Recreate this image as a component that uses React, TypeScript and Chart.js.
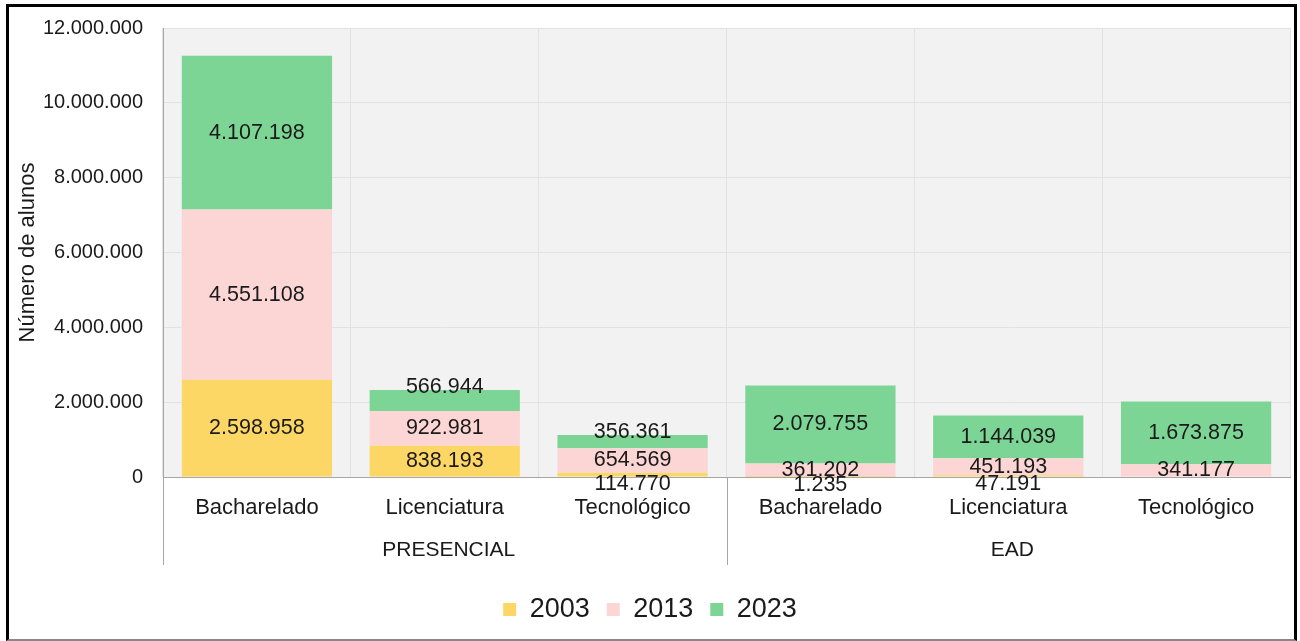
import React, { useEffect, useRef } from 'react';
import { Chart, registerables } from 'chart.js';

Chart.register(...registerables);

const categories = ['Bacharelado', 'Licenciatura', 'Tecnológico', 'Bacharelado', 'Licenciatura', 'Tecnológico'];
const groups = ['PRESENCIAL', 'EAD'];
const groupSizes = [3, 3];
const seriesNames = ['2003', '2013', '2023'];
const values2003: (number | null)[] = [2598958, 838193, 114770, 1235, 47191, null];
const values2013: (number | null)[] = [4551108, 922981, 654569, 361202, 451193, 341177];
const values2023: (number | null)[] = [4107198, 566944, 356361, 2079755, 1144039, 1673875];
const seriesColors = ['#FDD766', '#FBD6D4', '#7DD595'];
const yAxisTitle = 'Número de alunos';

const FONT = "'Liberation Sans', Arial, Helvetica, sans-serif";
const TEXT = '#1a1a1a';

const fmt = (v: number) => String(Math.round(v)).replace(/\B(?=(\d{3})+(?!\d))/g, '.');

export default function App() {
  const ref = useRef<HTMLCanvasElement>(null);

  useEffect(() => {
    if (!ref.current) return;

    const bgPlugin = {
      id: 'plotBg',
      beforeDraw(chart: any) {
        const { ctx, chartArea: a } = chart;
        ctx.save();
        ctx.fillStyle = '#f2f2f2';
        ctx.fillRect(a.left, a.top, a.right - a.left, a.bottom - a.top);
        ctx.restore();
      },
    };

    const labelPlugin = {
      id: 'stackLabels',
      afterDatasetsDraw(chart: any) {
        const ctx = chart.ctx;
        ctx.save();
        ctx.font = `21.5px ${FONT}`;
        ctx.fillStyle = TEXT;
        ctx.textAlign = 'center';
        ctx.textBaseline = 'middle';
        const n = chart.data.labels.length;
        const dsCount = chart.data.datasets.length;
        for (let i = 0; i < n; i++) {
          let lastIdx = -1;
          for (let d = 0; d < dsCount; d++) {
            const v = chart.data.datasets[d].data[i];
            if (v != null && v > 0) lastIdx = d;
          }
          for (let d = 0; d < dsCount; d++) {
            const v = chart.data.datasets[d].data[i];
            if (v == null || v <= 0) continue;
            const el: any = chart.getDatasetMeta(d).data[i];
            const top = Math.min(el.y, el.base);
            const bottom = Math.max(el.y, el.base);
            const h = bottom - top;
            let y = (top + bottom) / 2;
            if (d === lastIdx && d > 0 && h < 24) y = top - 3;
            else if (d === 0 && h < 12) y = bottom + 8;
            ctx.fillText(fmt(v), el.x, y);
          }
        }
        ctx.restore();
      },
    };

    const groupPlugin = {
      id: 'groupAxis',
      afterDraw(chart: any) {
        const { ctx, chartArea } = chart;
        const x = chart.scales.x;
        const half = (x.getPixelForValue(1) - x.getPixelForValue(0)) / 2;
        ctx.save();
        ctx.strokeStyle = '#a6a6a6';
        ctx.lineWidth = 1;
        ctx.font = `21px ${FONT}`;
        ctx.fillStyle = TEXT;
        ctx.textAlign = 'center';
        ctx.textBaseline = 'middle';
        let idx = 0;
        groups.forEach((g, gi) => {
          const first = idx;
          const last = idx + groupSizes[gi] - 1;
          const left = Math.round(x.getPixelForValue(first) - half) + 0.5;
          ctx.beginPath();
          ctx.moveTo(left, chartArea.bottom);
          ctx.lineTo(left, chartArea.bottom + 88);
          ctx.stroke();
          const cx = (x.getPixelForValue(first) + x.getPixelForValue(last)) / 2 + 4;
          ctx.fillText(g, cx, chartArea.bottom + 73);
          idx += groupSizes[gi];
        });
        ctx.restore();
      },
    };

    const chart = new Chart(ref.current, {
      type: 'bar',
      data: {
        labels: categories,
        datasets: [values2003, values2013, values2023].map((vals, i) => ({
          label: seriesNames[i],
          data: vals,
          backgroundColor: seriesColors[i],
          borderWidth: 0,
          categoryPercentage: 1,
          barPercentage: 0.8,
        })),
      },
      options: {
        responsive: false,
        animation: false,
        layout: { padding: { left: 10, right: 10, top: 28, bottom: 8 } },
        plugins: {
          tooltip: { enabled: false },
          legend: {
            position: 'bottom',
            labels: {
              boxWidth: 13,
              boxHeight: 13,
              padding: 17,
              color: TEXT,
              font: { family: FONT, size: 27 },
            },
          },
        },
        scales: {
          x: {
            stacked: true,
            grid: { color: '#e2e2e2', drawTicks: false, offset: true },
            border: { color: '#a6a6a6' },
            ticks: { color: TEXT, font: { family: FONT, size: 22 }, padding: 18, maxRotation: 0, autoSkip: false },
            afterFit(scale: any) {
              scale.height = 102;
            },
          },
          y: {
            stacked: true,
            min: 0,
            max: 12000000,
            grid: { color: '#e2e2e2', drawTicks: false },
            border: { color: '#a6a6a6' },
            ticks: {
              stepSize: 2000000,
              color: TEXT,
              font: { family: FONT, size: 20 },
              padding: 20,
              callback: (v: any) => fmt(Number(v)),
            },
            title: {
              display: true,
              text: yAxisTitle,
              color: TEXT,
              font: { family: FONT, size: 22 },
              padding: { top: 5, bottom: 0 },
            },
            afterFit(scale: any) {
              scale.width = 153;
              scale.paddingTop = 0;
              scale.paddingBottom = 0;
            },
          },
        },
      } as any,
      plugins: [bgPlugin, labelPlugin, groupPlugin],
    });

    return () => chart.destroy();
  }, []);

  return (
    <div style={{ position: 'fixed', left: 0, top: 0, width: 1300, height: 641, background: '#fff' }}>
      <canvas ref={ref} width={1300} height={641} style={{ display: 'block', width: 1300, height: 641 }} />
      <div
        style={{
          position: 'absolute',
          left: 6,
          top: 4,
          width: 1291,
          height: 637,
          boxSizing: 'border-box',
          borderLeft: '3px solid #000',
          borderTop: '3px solid #000',
          borderRight: '3px solid #000',
          borderBottom: '2px solid #888',
          pointerEvents: 'none',
        }}
      />
    </div>
  );
}
